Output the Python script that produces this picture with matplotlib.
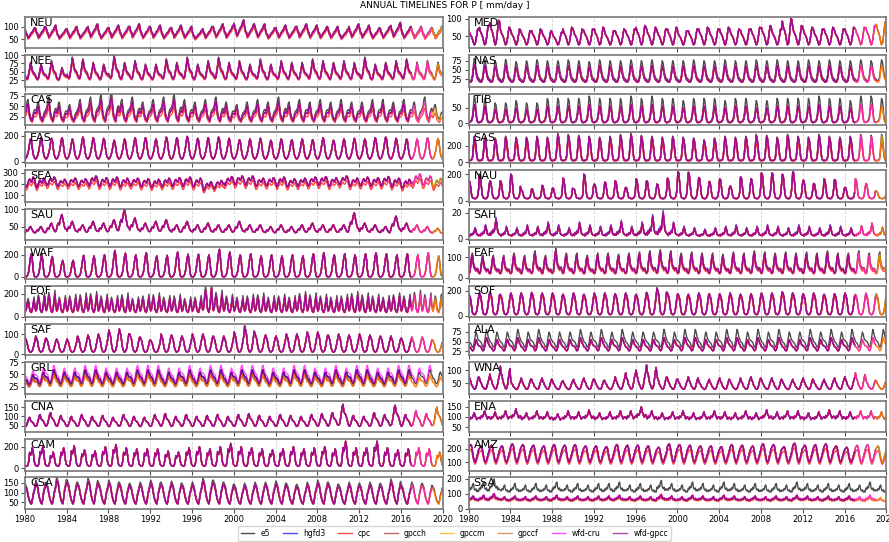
import numpy as np
import matplotlib.pyplot as plt

# regions, left column then right column
left_regions = ['NEU', 'NEE', 'CAS', 'EAS', 'SEA', 'SAU', 'WAF', 'EQF', 'SAF', 'GRL', 'CNA', 'CAM', 'CSA']
right_regions = ['MED', 'NAS', 'TIB', 'SAS', 'NAU', 'SAH', 'EAF', 'SOF', 'ALA', 'WNA', 'ENA', 'AMZ', 'SSA']

years = np.arange(1980, 2020)

# trough level of each year (scalar = same every year)
region_lo = {
    'NEU': 40, 'NEE': 20, 'CAS': 15, 'EAS': 20,
    'SEA': [170, 165, 185, 175, 180, 175, 180, 175, 175, 170, 180, 170, 165, 170, 175, 175, 170, 140, 155, 185,
            190, 185, 175, 180, 175, 170, 175, 180, 185, 175, 190, 175, 180, 175, 180, 170, 160, 190, 185, 165],
    'SAU': 25, 'WAF': 2, 'EQF': 40, 'SAF': 10, 'GRL': 25, 'CNA': 40, 'CAM': 20, 'CSA': 35,
    'MED': 25, 'NAS': 15, 'TIB': 3, 'SAS': 15, 'NAU': 15, 'SAH': 1.5, 'EAF': 12, 'SOF': 10,
    'ALA': 25, 'WNA': 25, 'ENA': 65, 'AMZ': 100, 'SSA': 40,
}

# monthly shape of the seasonal cycle (Jan..Dec, 0 = trough, 1 = peak)
region_shape = {
    'NEU': [0.85, 0.6, 0.55, 0.3, 0.35, 0.45, 0.55, 0.65, 0.7, 0.8, 0.95, 1.0],
    'NEE': [0.3, 0.2, 0.15, 0.2, 0.45, 0.7, 1.0, 0.85, 0.6, 0.5, 0.45, 0.4],
    'CAS': [0.5, 0.6, 0.9, 1.0, 0.7, 0.3, 0.15, 0.05, 0.0, 0.3, 0.45, 0.5],
    'EAS': [0.0, 0.05, 0.15, 0.3, 0.5, 0.8, 1.0, 0.9, 0.55, 0.25, 0.1, 0.02],
    'SEA': [0.3, 0.0, 0.1, 0.4, 0.7, 0.8, 0.6, 0.5, 0.7, 1.0, 0.9, 0.6],
    'SAU': [0.3, 0.5, 0.6, 0.5, 0.7, 0.9, 1.0, 0.8, 0.6, 0.4, 0.3, 0.3],
    'WAF': [0.0, 0.0, 0.03, 0.1, 0.25, 0.55, 0.85, 1.0, 0.75, 0.3, 0.05, 0.0],
    'EQF': [0.1, 0.2, 0.6, 0.9, 0.7, 0.2, 0.05, 0.0, 0.2, 0.6, 1.0, 0.4],
    'SAF': [1.0, 0.85, 0.7, 0.35, 0.15, 0.05, 0.0, 0.05, 0.1, 0.3, 0.55, 0.8],
    'GRL': [0.6, 0.55, 0.5, 0.3, 0.2, 0.2, 0.35, 0.6, 0.9, 1.0, 0.8, 0.7],
    'CNA': [0.1, 0.15, 0.35, 0.6, 0.9, 1.0, 0.7, 0.6, 0.55, 0.45, 0.3, 0.15],
    'CAM': [0.05, 0.0, 0.0, 0.05, 0.3, 0.75, 0.6, 0.7, 1.0, 0.8, 0.35, 0.1],
    'CSA': [1.0, 0.9, 0.8, 0.55, 0.35, 0.2, 0.1, 0.05, 0.25, 0.55, 0.7, 0.9],
    'MED': [0.9, 0.7, 0.6, 0.5, 0.35, 0.15, 0.0, 0.05, 0.3, 0.65, 1.0, 0.95],
    'NAS': [0.1, 0.05, 0.05, 0.1, 0.3, 0.7, 1.0, 0.9, 0.6, 0.35, 0.2, 0.15],
    'TIB': [0.0, 0.02, 0.05, 0.1, 0.25, 0.6, 1.0, 0.9, 0.55, 0.15, 0.02, 0.0],
    'SAS': [0.02, 0.02, 0.03, 0.05, 0.15, 0.6, 1.0, 0.9, 0.6, 0.2, 0.05, 0.02],
    'NAU': [1.0, 0.95, 0.6, 0.2, 0.05, 0.02, 0.0, 0.0, 0.0, 0.05, 0.15, 0.5],
    'SAH': [0.2, 0.1, 0.3, 0.2, 0.4, 0.3, 0.6, 1.0, 0.7, 0.3, 0.2, 0.15],
    'EAF': [0.1, 0.15, 0.5, 0.9, 1.0, 0.6, 0.4, 0.35, 0.25, 0.3, 0.3, 0.15],
    'SOF': [1.0, 0.9, 0.75, 0.4, 0.1, 0.02, 0.0, 0.0, 0.05, 0.2, 0.5, 0.85],
    'ALA': [0.4, 0.35, 0.3, 0.15, 0.05, 0.1, 0.35, 0.7, 1.0, 0.85, 0.6, 0.5],
    'WNA': [1.0, 0.7, 0.6, 0.35, 0.25, 0.15, 0.05, 0.05, 0.15, 0.4, 0.7, 0.9],
    'ENA': [0.5, 0.4, 0.6, 0.5, 0.6, 0.8, 1.0, 0.7, 0.6, 0.4, 0.5, 0.55],
    'AMZ': [0.85, 0.95, 1.0, 0.9, 0.6, 0.3, 0.1, 0.0, 0.1, 0.3, 0.5, 0.7],
    'SSA': [0.6, 0.5, 0.7, 0.6, 0.9, 1.0, 0.6, 0.5, 0.6, 0.4, 0.5, 0.4],
}

# yearly peak values 1980..2019
region_peaks = {
    'NEU': [95, 100, 105, 90, 100, 95, 110, 95, 105, 100, 110, 100, 105, 95, 105, 100, 85, 100, 110, 105,
            125, 110, 110, 95, 105, 100, 110, 105, 100, 100, 90, 110, 105, 95, 100, 115, 100, 100, 95, 100],
    'NEE': [75, 70, 80, 60, 90, 85, 75, 70, 95, 75, 80, 70, 70, 85, 75, 90, 70, 80, 90, 75,
            80, 70, 85, 70, 80, 75, 75, 85, 80, 75, 80, 75, 90, 70, 75, 80, 85, 75, 80, 75],
    'CAS': [55, 50, 60, 50, 45, 55, 60, 65, 70, 55, 60, 50, 55, 60, 65, 55, 50, 55, 60, 50,
            45, 50, 55, 50, 60, 50, 55, 50, 55, 50, 55, 50, 50, 55, 55, 50, 55, 50, 60, 45],
    'EAS': [175, 185, 180, 185, 175, 190, 185, 180, 165, 175, 185, 185, 175, 190, 185, 195, 180, 185, 190, 180,
            170, 175, 180, 165, 175, 170, 175, 170, 185, 165, 175, 180, 175, 185, 190, 180, 175, 175, 185, 180],
    'SEA': [260, 250, 260, 240, 250, 245, 270, 255, 260, 250, 250, 245, 240, 250, 255, 260, 250, 220, 230, 265,
            270, 270, 250, 255, 260, 245, 250, 260, 265, 255, 270, 250, 260, 255, 265, 250, 240, 290, 270, 250],
    'SAU': [50, 50, 60, 85, 65, 55, 65, 60, 70, 100, 75, 60, 65, 70, 55, 65, 55, 60, 55, 55,
            65, 55, 55, 50, 55, 50, 55, 60, 55, 55, 55, 90, 60, 55, 50, 80, 60, 55, 50, 45],
    'WAF': [210, 200, 185, 150, 150, 195, 190, 200, 240, 215, 200, 220, 190, 195, 225, 205, 205, 200, 250, 225,
            200, 210, 190, 200, 190, 200, 190, 210, 220, 200, 210, 200, 210, 220, 210, 200, 210, 200, 220, 190],
    'EQF': [150, 180, 200, 160, 170, 180, 190, 170, 160, 180, 150, 170, 180, 160, 170, 150, 160, 250, 200, 170,
            160, 170, 180, 160, 170, 160, 190, 180, 170, 160, 170, 190, 180, 170, 160, 180, 170, 200, 180, 170],
    'SAF': [80, 90, 80, 75, 75, 90, 95, 100, 120, 125, 100, 85, 70, 100, 95, 90, 100, 100, 90, 90,
            110, 140, 100, 95, 90, 100, 100, 110, 110, 95, 100, 95, 100, 95, 90, 90, 80, 85, 85, 70],
    'GRL': [50, 55, 60, 55, 55, 60, 60, 55, 55, 55, 60, 60, 60, 55, 55, 60, 55, 60, 60, 55,
            60, 60, 60, 55, 55, 60, 60, 55, 55, 60, 55, 60, 60, 55, 55, 60, 60, 55, 60, 55],
    'CNA': [95, 110, 120, 105, 100, 110, 100, 105, 95, 110, 100, 95, 110, 115, 100, 110, 100, 105, 110, 100,
            110, 115, 105, 100, 110, 105, 100, 110, 115, 120, 165, 105, 100, 120, 110, 160, 110, 130, 115, 150],
    'CAM': [190, 200, 150, 190, 210, 170, 160, 200, 220, 190, 180, 180, 180, 160, 150, 190, 200, 180, 200, 230,
            200, 190, 180, 170, 180, 200, 180, 190, 200, 180, 250, 190, 190, 250, 190, 170, 180, 190, 180, 150],
    'CSA': [130, 150, 140, 165, 150, 140, 160, 140, 150, 140, 135, 140, 150, 140, 145, 135, 140, 160, 150, 140,
            130, 135, 140, 140, 145, 135, 130, 140, 150, 140, 130, 140, 135, 140, 135, 155, 130, 140, 135, 120],
    'MED': [70, 80, 95, 75, 70, 65, 70, 65, 60, 75, 70, 70, 75, 65, 70, 70, 80, 75, 70, 75,
            65, 70, 75, 70, 75, 70, 70, 75, 80, 70, 100, 80, 75, 70, 75, 70, 75, 75, 80, 90],
    'NAS': [65, 62, 60, 63, 58, 60, 62, 60, 60, 62, 60, 58, 62, 60, 60, 62, 60, 62, 60, 60,
            60, 62, 60, 60, 62, 60, 60, 62, 60, 62, 60, 60, 62, 60, 62, 60, 60, 62, 60, 62],
    'TIB': [60, 55, 45, 45, 50, 45, 45, 55, 55, 55, 55, 60, 55, 55, 55, 60, 55, 60, 55, 55,
            50, 55, 55, 55, 50, 55, 55, 50, 50, 55, 55, 55, 55, 60, 55, 55, 50, 60, 60, 55],
    'SAS': [300, 290, 280, 300, 290, 290, 300, 290, 330, 320, 310, 300, 290, 300, 320, 330, 310, 300, 290, 300,
            290, 280, 260, 280, 300, 290, 300, 320, 310, 290, 320, 300, 290, 320, 300, 290, 300, 320, 310, 320],
    'NAU': [150, 200, 150, 150, 200, 80, 90, 115, 95, 170, 90, 200, 125, 140, 150, 100, 165, 150, 125, 170,
            220, 215, 175, 145, 165, 110, 180, 165, 210, 210, 200, 220, 155, 130, 165, 160, 100, 165, 130, 70],
    'SAH': [8, 10, 15, 9, 8, 10, 9, 12, 10, 8, 12, 10, 9, 10, 13, 9, 12, 17, 20, 12,
            9, 8, 7, 8, 9, 10, 8, 9, 10, 9, 8, 10, 9, 8, 10, 9, 8, 10, 12, 9],
    'EAF': [110, 100, 100, 100, 110, 100, 120, 100, 130, 110, 110, 100, 110, 110, 105, 110, 115, 120, 125, 120,
            110, 115, 110, 110, 105, 115, 110, 120, 115, 110, 115, 110, 115, 110, 120, 110, 110, 120, 110, 115],
    'SOF': [170, 180, 190, 170, 180, 180, 185, 180, 180, 170, 180, 170, 180, 180, 175, 180, 170, 185, 220, 180,
            175, 170, 180, 175, 175, 180, 170, 175, 180, 180, 190, 180, 175, 180, 170, 175, 180, 170, 180, 175],
    'ALA': [55, 60, 55, 55, 60, 55, 60, 55, 55, 55, 60, 55, 60, 55, 60, 55, 55, 55, 60, 55,
            60, 60, 55, 55, 60, 60, 55, 60, 55, 60, 55, 55, 60, 55, 60, 55, 60, 55, 60, 60],
    'WNA': [80, 70, 85, 115, 60, 70, 65, 70, 60, 60, 65, 70, 65, 60, 75, 90, 100, 120, 80, 70,
            65, 75, 60, 65, 70, 60, 70, 75, 65, 70, 60, 65, 70, 60, 65, 70, 75, 90, 65, 60],
    'ENA': [120, 130, 125, 130, 140, 120, 130, 125, 115, 130, 125, 135, 120, 125, 130, 130, 150, 130, 120, 125,
            130, 120, 125, 130, 125, 120, 130, 120, 135, 125, 130, 130, 120, 125, 135, 130, 125, 130, 130, 125],
    'AMZ': [230, 220, 225, 220, 235, 230, 225, 220, 230, 225, 230, 220, 220, 215, 230, 225, 225, 220, 210, 235,
            230, 225, 220, 220, 215, 230, 225, 220, 235, 230, 215, 240, 225, 230, 235, 220, 210, 225, 230, 220],
    'SSA': [85, 90, 100, 80, 85, 80, 85, 80, 90, 80, 85, 80, 85, 85, 90, 80, 85, 80, 95, 85,
            80, 90, 85, 80, 90, 85, 80, 85, 80, 85, 80, 90, 85, 80, 85, 80, 85, 80, 90, 80],
}

region_yticks = {
    'NEU': [50, 100], 'NEE': [25, 50, 75, 100], 'CAS': [25, 50, 75], 'EAS': [0, 200],
    'SEA': [100, 200, 300], 'SAU': [50, 100], 'WAF': [0, 200], 'EQF': [0, 200], 'SAF': [0, 100],
    'GRL': [25, 50, 75], 'CNA': [50, 100, 150], 'CAM': [0, 200], 'CSA': [50, 100, 150],
    'MED': [50, 100], 'NAS': [25, 50, 75], 'TIB': [0, 50], 'SAS': [0, 200], 'NAU': [0, 200],
    'SAH': [0, 20], 'EAF': [0, 100], 'SOF': [0, 200], 'ALA': [25, 50, 75], 'WNA': [50, 100],
    'ENA': [50, 100, 150], 'AMZ': [100, 200], 'SSA': [0, 100, 200],
}

region_ylim = {
    'NEU': (15, 140), 'NEE': (5, 100), 'CAS': (5, 80), 'EAS': (-15, 230), 'SEA': (40, 320),
    'SAU': (10, 102), 'WAF': (-15, 270), 'EQF': (0, 270), 'SAF': (-5, 150), 'GRL': (10, 75),
    'CNA': (15, 185), 'CAM': (-20, 270), 'CSA': (15, 178), 'MED': (15, 105), 'NAS': (5, 90),
    'TIB': (-5, 95), 'SAS': (-15, 365), 'NAU': (-10, 230), 'SAH': (-1, 23), 'EAF': (-5, 150),
    'SOF': (-10, 240), 'ALA': (15, 95), 'WNA': (10, 130), 'ENA': (25, 180), 'AMZ': (40, 270),
    'SSA': (0, 210),
}

datasets = ['e5', 'hgfd3', 'cpc', 'gpcch', 'gpccm', 'gpccf', 'wfd-cru', 'wfd-gpcc']
ds_colors = ['black', 'blue', 'red', 'brown', 'orange', 'chocolate', 'magenta', 'purple']
# first and last+1 year covered by each dataset
ds_period = {
    'e5': (1980, 2020), 'hgfd3': (1980, 2017), 'cpc': (1980, 2020), 'gpcch': (1980, 2017),
    'gpccm': (1982, 2020), 'gpccf': (1980, 2017), 'wfd-cru': (1980, 2019), 'wfd-gpcc': (1980, 2017),
}
# regional scaling of each dataset relative to the common series
ds_bias = {
    'e5': {'NAS': 1.25, 'TIB': 1.45, 'ALA': 1.35, 'SSA': 2.0, 'EAF': 1.1, 'EQF': 1.15, 'CAS': 1.2,
           'CSA': 1.1, 'SAS': 1.05, 'NEE': 1.05, 'NEU': 1.03},
    'hgfd3': {'GRL': 0.95, 'SAH': 1.1},
    'cpc': {'SEA': 0.85, 'CAS': 0.75, 'SAS': 0.72, 'EAF': 0.8, 'SOF': 0.85, 'AMZ': 0.85, 'NEU': 0.9,
            'NEE': 0.88, 'GRL': 0.8, 'EQF': 0.9, 'SSA': 0.9},
    'gpcch': {'GRL': 0.85},
    'gpccm': {'GRL': 0.8},
    'gpccf': {'GRL': 0.85},
    'wfd-cru': {'GRL': 1.15, 'SSA': 1.05},
    'wfd-gpcc': {},
}


def region_series(name):
    lo = np.broadcast_to(np.asarray(region_lo[name], dtype=float), years.shape)
    peaks = np.asarray(region_peaks[name], dtype=float)
    shape = np.asarray(region_shape[name], dtype=float)
    vals = lo[:, None] + (peaks - lo)[:, None] * shape[None, :]
    return vals.ravel()


t = 1980 + (np.arange(len(years) * 12) + 0.5) / 12.0

fig, axes = plt.subplots(13, 2, figsize=(8.89, 5.42), dpi=100, sharex=True)
fig.subplots_adjust(left=0.028, right=0.997, top=0.969, bottom=0.061, hspace=0.22, wspace=0.062)

for col, regions in enumerate([left_regions, right_regions]):
    for row, reg in enumerate(regions):
        ax = axes[row, col]
        base = region_series(reg)
        for ds, c in zip(datasets, ds_colors):
            y0, y1 = ds_period[ds]
            m = (t >= y0) & (t < y1)
            f = ds_bias[ds].get(reg, 1.0)
            ax.plot(t[m], base[m] * f, color=c, lw=1.0, alpha=0.7, label=ds)
        ax.set_yticks(region_yticks[reg])
        ax.set_ylim(*region_ylim[reg])
        ax.text(0.012, 0.97, reg, transform=ax.transAxes, fontsize=8, va='top', ha='left')
        ax.set_xlim(1980, 2020)
        ax.set_xticks(range(1980, 2021, 4))
        ax.grid(axis='x', ls='--', color='lightgrey', lw=0.6)
        ax.tick_params(labelsize=6, length=3, color='#555555', pad=1.5)
        for s in ax.spines.values():
            s.set_color('#777777')
            s.set_linewidth(1.2)

fig.suptitle('ANNUAL TIMELINES FOR P [ mm/day ]', fontsize=6.5, y=0.998)
handles, labels = axes[0, 0].get_legend_handles_labels()
fig.legend(handles, labels, loc='lower center', ncol=8, fontsize=5.5, bbox_to_anchor=(0.511, -0.005),
           handlelength=1.8, columnspacing=1.7, frameon=True)

fig.savefig('out.png', dpi=100)
